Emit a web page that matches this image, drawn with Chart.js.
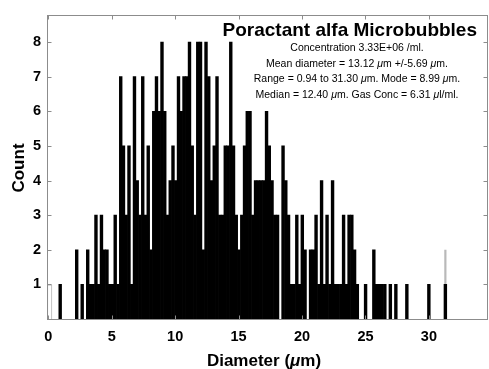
<!DOCTYPE html>
<html>
<head>
<meta charset="utf-8">
<script src="https://cdn.jsdelivr.net/npm/chart.js@4.4.0/dist/chart.umd.min.js"></script>
<style>
  html, body { margin: 0; padding: 0; background: #fff; }
  #wrap { width: 489px; height: 369px; }
</style>
</head>
<body>
<div id="wrap"><canvas id="histo" width="489" height="369"></canvas></div>
<script>
// centres (um) of the non-empty bins, and the bubble count in each
const binCenters = [
  0.940, 2.241, 2.675, 3.109, 3.325, 3.542, 3.759, 3.976, 4.193, 4.410,
  4.627, 4.843, 5.060, 5.277, 5.494, 5.711, 5.928, 6.145, 6.362, 6.578,
  6.795, 7.012, 7.229, 7.446, 7.663, 7.880, 8.096, 8.313, 8.530, 8.747,
  8.964, 9.181, 9.398, 9.614, 9.831, 10.048, 10.265, 10.482, 10.699, 10.916,
  11.132, 11.349, 11.566, 11.783, 12.000, 12.217, 12.434, 12.650, 12.867, 13.084,
  13.301, 13.518, 13.735, 13.952, 14.168, 14.385, 14.602, 14.819, 15.036, 15.253,
  15.470, 15.686, 15.903, 16.120, 16.337, 16.554, 16.771, 16.988, 17.205, 17.421,
  17.638, 17.855, 18.072, 18.506, 18.723, 18.939, 19.156, 19.373, 19.590, 19.807,
  20.024, 20.241, 20.674, 20.891, 21.108, 21.325, 21.542, 21.759, 21.975, 22.192,
  22.409, 22.626, 22.843, 23.060, 23.277, 23.493, 23.710, 23.927, 24.144, 24.361,
  25.011, 25.662, 25.879, 26.096, 26.313, 26.529, 26.963, 27.397, 28.264, 29.999,
  31.300
];
const binCounts = [
  1, 2, 1, 2, 1, 1, 3, 1, 3, 2,
  2, 1, 1, 3, 1, 7, 5, 3, 5, 1,
  7, 4, 3, 7, 3, 5, 2, 6, 7, 6,
  8, 6, 3, 4, 5, 4, 7, 6, 7, 7,
  8, 5, 3, 8, 8, 2, 8, 7, 4, 5,
  7, 3, 3, 5, 5, 8, 5, 3, 2, 3,
  5, 6, 6, 3, 4, 4, 4, 4, 6, 5,
  4, 3, 3, 5, 4, 3, 1, 1, 3, 1,
  3, 2, 2, 2, 3, 1, 4, 1, 3, 1,
  4, 1, 1, 1, 3, 1, 3, 3, 2, 1,
  1, 2, 1, 1, 1, 1, 1, 1, 1, 1,
  1
];
// faint bars that show up grey in the original
const outlineCenters = [0.11];
const outlineCounts = [1];
const greyCenters = [31.300];
const greyCounts = [2];

const xTickValues = [0, 5, 10, 15, 20, 25, 30];
const yTickValues = [1, 2, 3, 4, 5, 6, 7, 8];

const titleText = 'Poractant alfa Microbubbles';
const infoLines = [
  'Concentration 3.33E+06 /ml.',
  'Mean diameter = 13.12 μm +/-5.69 μm.',
  'Range = 0.94 to 31.30 μm. Mode = 8.99 μm.',
  'Median = 12.40 μm. Gas Conc = 6.31 μl/ml.'
];

const FAMILY = '"Liberation Sans", Arial, Helvetica, sans-serif';
Chart.defaults.font.family = FAMILY;

function toPoints(xs, ys) {
  return xs.map((x, i) => ({ x: x, y: ys[i] }));
}

// split a line so the mu can be drawn in italic, like the TeX one
function runsOf(text, size, weight) {
  return text.split(/(μ)/).filter(s => s.length).map(s => ({
    t: s,
    font: (s === 'μ' ? 'italic ' : '') + weight + ' ' + size + 'px ' + FAMILY
  }));
}

function drawRuns(ctx, runs, x, y, align) {
  let total = 0;
  runs.forEach(r => { ctx.font = r.font; r.w = ctx.measureText(r.t).width; total += r.w; });
  let cur = align === 'right' ? x - total : align === 'left' ? x : x - total / 2;
  runs.forEach(r => { ctx.font = r.font; ctx.fillText(r.t, cur, y); cur += r.w; });
}

const frameAndText = {
  id: 'frameAndText',
  afterDraw(chart) {
    const { ctx, chartArea: a, scales } = chart;
    const xs = scales.x, ys = scales.y;
    ctx.save();

    // box round the plot with inward tick marks, matlab style
    ctx.strokeStyle = '#8c8c8c';
    ctx.lineWidth = 1;
    const L = Math.round(a.left) + 0.5, R = Math.round(a.right) - 0.5;
    const T = Math.round(a.top) + 0.5, B = Math.round(a.bottom) + 0.5;
    ctx.strokeRect(L, T, R - L, B - T);
    ctx.beginPath();
    xTickValues.forEach(v => {
      const px = Math.round(xs.getPixelForValue(v)) + 0.5;
      ctx.moveTo(px, B); ctx.lineTo(px, B - 4);
      ctx.moveTo(px, T); ctx.lineTo(px, T + 4);
    });
    yTickValues.forEach(v => {
      const py = Math.round(ys.getPixelForValue(v)) + 0.5;
      ctx.moveTo(L, py); ctx.lineTo(L + 4, py);
      ctx.moveTo(R, py); ctx.lineTo(R - 4, py);
    });
    ctx.stroke();

    ctx.fillStyle = '#000';
    ctx.textBaseline = 'middle';

    // title and the stats block inside the axes
    drawRuns(ctx, runsOf(titleText, 19, 'bold'), 477, 30.5, 'right');
    const rows = [48.5, 64, 79.5, 95];
    infoLines.forEach((line, i) => {
      drawRuns(ctx, runsOf(line, 10.5, 'normal'), 357, rows[i], 'center');
    });

    // axis titles
    ctx.textBaseline = 'alphabetic';
    drawRuns(ctx, runsOf('Diameter (μm)', 17, 'bold'), 264, 366, 'center');
    ctx.translate(24, 168);
    ctx.rotate(-Math.PI / 2);
    drawRuns(ctx, runsOf('Count', 17, 'bold'), 0, 0, 'center');

    ctx.restore();
  }
};

const tickFont = { family: FAMILY, size: 14.5, weight: 'bold' };

new Chart(document.getElementById('histo'), {
  type: 'bar',
  data: {
    datasets: [
      {
        label: 'Count',
        data: toPoints(binCenters, binCounts),
        backgroundColor: '#000',
        borderWidth: 0,
        grouped: false,
        barPercentage: 1,
        categoryPercentage: 1
      },
      {
        label: 'grey',
        data: toPoints(greyCenters, greyCounts),
        backgroundColor: '#b9b9b9',
        borderWidth: 0,
        grouped: false,
        barPercentage: 0.8,
        categoryPercentage: 1
      },
      {
        label: 'outline',
        data: toPoints(outlineCenters, outlineCounts),
        backgroundColor: 'rgba(255,255,255,0)',
        borderColor: '#b4b4b4',
        borderWidth: 1,
        grouped: false,
        barPercentage: 1.9,
        categoryPercentage: 1
      }
    ]
  },
  options: {
    responsive: false,
    animation: false,
    devicePixelRatio: 1,
    events: [],
    layout: { padding: { top: 12, right: 1, left: 0, bottom: 0 } },
    plugins: {
      legend: { display: false },
      tooltip: { enabled: false }
    },
    scales: {
      x: {
        type: 'linear',
        offset: false,
        min: -0.1,
        max: 34.66,
        grid: { display: false, drawTicks: false },
        border: { display: false },
        ticks: { font: tickFont, color: '#000', padding: 9, maxRotation: 0 },
        afterBuildTicks: s => { s.ticks = xTickValues.map(v => ({ value: v })); },
        afterFit: s => { s.height = 50; }
      },
      y: {
        min: 0,
        max: 8.79,
        grid: { display: false, drawTicks: false },
        border: { display: false },
        ticks: { font: tickFont, color: '#000', padding: 6 },
        afterBuildTicks: s => { s.ticks = yTickValues.map(v => ({ value: v })); },
        afterFit: s => { s.width = 47; }
      }
    }
  },
  plugins: [frameAndText]
});
</script>
</body>
</html>
